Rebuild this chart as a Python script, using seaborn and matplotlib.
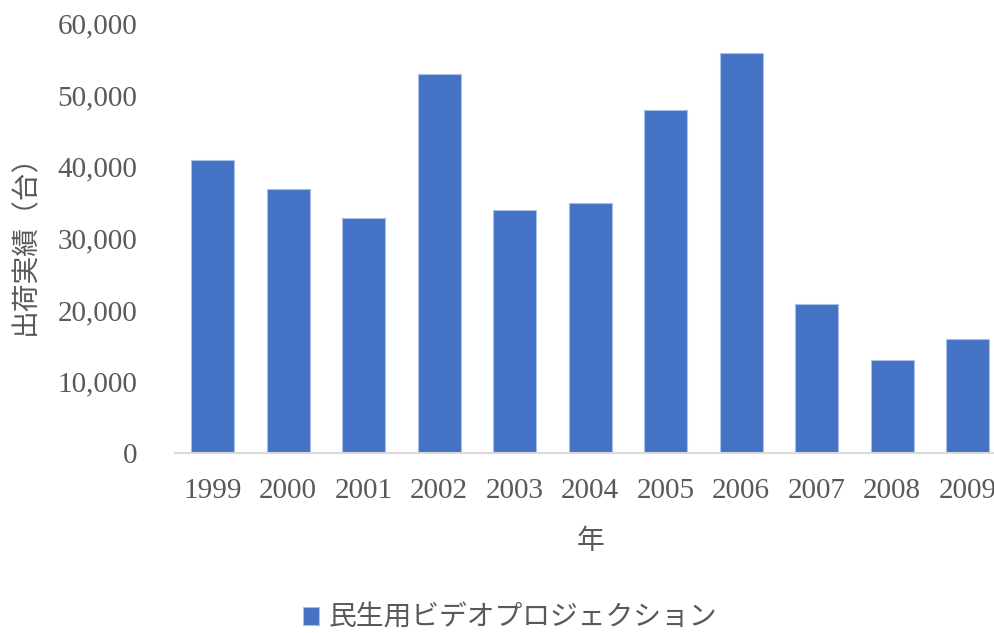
import matplotlib
matplotlib.use("Agg")
import matplotlib.pyplot as plt
import seaborn as sns
import pandas as pd

# Annual shipments of consumer video projectors
years = ["1999", "2000", "2001", "2002", "2003", "2004",
         "2005", "2006", "2007", "2008", "2009"]
shipments = [40900, 36900, 32900, 52900, 33900, 34900,
             47900, 55800, 20900, 13000, 15900]
series_name = "民生用ビデオプロジェクション"
y_ticks = [0, 10000, 20000, 30000, 40000, 50000, 60000]
y_tick_labels = ["0", "10,000", "20,000", "30,000", "40,000", "50,000", "60,000"]

df = pd.DataFrame({"年": years, "出荷実績": shipments})

sns.set_theme(style="white")
plt.rcParams["font.family"] = ["Liberation Serif", "Noto Sans CJK JP"]

text_color = "#595959"
bar_color = "#4472C4"

fig = plt.figure(figsize=(9.95, 6.33), dpi=100)
ax = fig.add_axes([175 / 995, 1 - 453.3 / 633, 830.5 / 995, 430 / 633])

sns.barplot(data=df, x="年", y="出荷実績", color=bar_color, width=0.57,
            edgecolor="#a9bfe6", linewidth=0.8, saturation=1,
            label=series_name, ax=ax)

ax.set_xlim(-0.5, len(years) - 0.5)
ax.set_ylim(0, 60000)
ax.set_yticks(y_ticks)
ax.set_yticklabels(y_tick_labels)

for side in ["top", "right", "left"]:
    ax.spines[side].set_visible(False)
ax.spines["bottom"].set_color("#d9d9d9")
ax.spines["bottom"].set_linewidth(1.5)

ax.tick_params(axis="both", length=0, labelsize=21, colors=text_color)
ax.tick_params(axis="x", pad=18)
ax.tick_params(axis="y", pad=27)

ax.set_xlabel("年", fontsize=20, color=text_color)
ax.xaxis.set_label_coords(0.5, -0.177)
ax.set_ylabel("出荷実績（台）", fontsize=20, color=text_color)
ax.yaxis.set_label_coords(-0.163, 0.5)

if ax.get_legend() is not None:
    ax.get_legend().remove()
handles, labels = ax.get_legend_handles_labels()
fig.legend(handles, labels, loc="center", bbox_to_anchor=(510 / 995, 1 - 619 / 633),
           frameon=False, fontsize=20, labelcolor=text_color,
           handlelength=0.6, handleheight=0.6, handletextpad=0.35)

fig.savefig("out.png", dpi=100)
